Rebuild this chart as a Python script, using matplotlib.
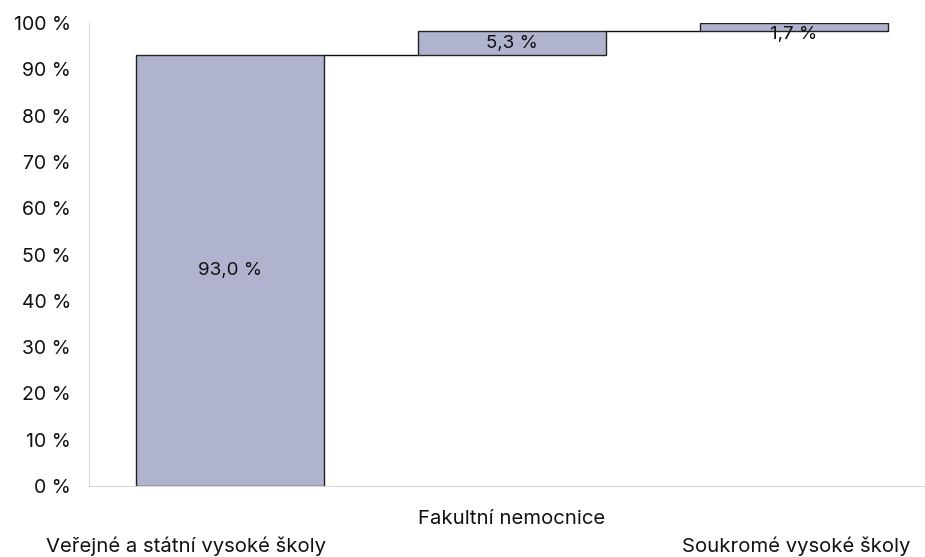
import matplotlib
matplotlib.use("Agg")
import matplotlib.pyplot as plt
from matplotlib.ticker import FuncFormatter

categories = ["Veřejné a státní vysoké školy", "Fakultní nemocnice", "Soukromé vysoké školy"]
values = [93.0, 5.3, 1.7]
labels = ["93,0 %", "5,3 %", "1,7 %"]
yticks = [0, 10, 20, 30, 40, 50, 60, 70, 80, 90, 100]

plt.rcParams['font.family'] = ['Inter', 'DejaVu Sans']

fig = plt.figure(figsize=(9.25, 5.57), dpi=100)
ax = fig.add_axes([89/925, 1-486/557, 846/925, 463/557])

bottoms = []
acc = 0
for v in values:
    bottoms.append(acc)
    acc += v

x = list(range(len(categories)))
w = 0.67
ax.bar(x, values, bottom=bottoms, width=w, color="#AFB3CE", edgecolor="#222222", linewidth=1.0, zorder=3)

# connectors
for i in range(len(values) - 1):
    y = bottoms[i] + values[i]
    ax.plot([x[i] + w/2, x[i+1] - w/2], [y, y], color="#111111", linewidth=1.0, zorder=2)

for i, (b, v, lab) in enumerate(zip(bottoms, values, labels)):
    yc = b + v/2
    if v < 3:
        yc = b + v/2 - 1.6
    ax.text(x[i], yc, lab, ha="center", va="center", fontsize=13.5, color="#111111", zorder=4)

ax.set_xlim(-0.5, 2.5)
ax.set_ylim(0, 100)
ax.set_yticks(yticks)
ax.yaxis.set_major_formatter(FuncFormatter(lambda v, p: f"{int(v)} %"))
ax.tick_params(axis='y', length=0, labelsize=14, pad=13, colors="#111111")
ax.set_xticks(x)
ax.set_xticklabels(["", "", ""])
ax.tick_params(axis='x', length=0)
xoffs = [-44, 0, 2]
yoffs = [-60, -33, -60]
for i, c in enumerate(categories):
    ax.annotate(c, xy=(x[i], 0), xytext=(xoffs[i], yoffs[i]), textcoords="offset pixels",
                ha="center", va="center", fontsize=14.6, color="#111111", annotation_clip=False)

for s in ["top", "right"]:
    ax.spines[s].set_visible(False)
ax.spines["left"].set_color("#D9D9D9")
ax.spines["bottom"].set_color("#D9D9D9")

fig.savefig("out.png", dpi=100)
